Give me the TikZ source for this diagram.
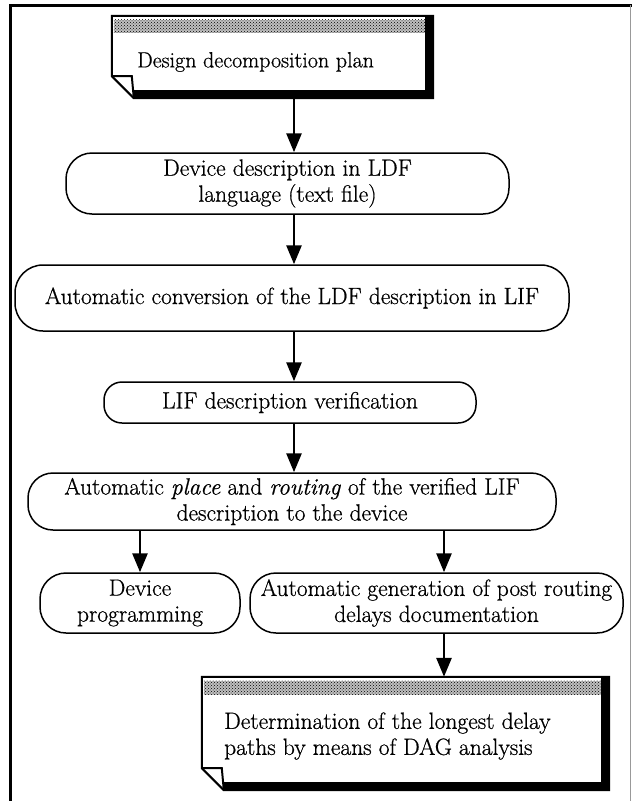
\documentclass[tikz,border=0pt]{standalone}
\usepackage{fontspec}
\newfontfamily\flowfont{Latin Modern Roman}[FakeBold = 0.7]
\usetikzlibrary{arrows.meta, patterns}
\tikzset{
    flowbox/.style = {draw, line width = 1.5, align = center, inner sep = 0, font = \flowfont\fontsize{23.5}{26}\selectfont},
    flowarrow/.style = {line width = 2.8, -{Triangle[length = 19pt, width = 15pt]}},
    doctext/.style = {align = left, inner sep = 0, font = \flowfont\fontsize{23.5}{26}\selectfont},
    docband/.style = {fill = black!25, postaction = {pattern = crosshatch dots, pattern color = black}},
}
\begin{document}
\begin{tikzpicture}[x = 1pt, y = -1pt]
        \useasboundingbox (0, 0) rectangle (632, 801);
        \draw [line width = 3] (10, 801) -- (10, 5) -- (632, 5);
        \draw [line width = 1, black!40] (630, 5) -- (630, 801);
        \coordinate (spine) at (294, 0);
        \coordinate (branch) at (444, 0);
        % design plan document
        \node [minimum width = 321, minimum height = 82, inner sep = 0] (plan) at (272.5, 57) {};
        \draw [line width = 2, fill = white] (plan.north west) -- (plan.north east) -- (plan.south east) -- ([xshift = 22pt] plan.south west) -- ([yshift = 22pt] plan.south west) -- cycle;
        \path [docband] ([shift = {(2pt, -4pt)}] plan.north west) rectangle ([shift = {(-8pt, -17pt)}] plan.north east);
        \draw [line width = 8] ([xshift = -4pt] plan.north east) -- ([shift = {(-4pt, 4pt)}] plan.south east) -- ([shift = {(22pt, 4pt)}] plan.south west);
        \draw [line width = 2] ([yshift = 22pt] plan.south west) -- ([shift = {(20pt, 22pt)}] plan.south west) -- ([xshift = 22pt] plan.south west);
        \node [doctext, font = \flowfont\fontsize{22}{24}\selectfont, anchor = west] (plantext) at (137, 62) {Design decomposition plan};
        % flow boxes
        \node [flowbox, minimum width = 443, minimum height = 61, rounded corners = 26pt] (desc) at (287.5, 183.5) {Device description in LDF\\language (text file)};
        \node [flowbox, minimum width = 554, minimum height = 66, rounded corners = 28pt] (conv) at (292, 298) {Automatic conversion of the LDF description in LIF};
        \node [flowbox, minimum width = 372, minimum height = 41, rounded corners = 18pt] (verif) at (290, 402.5) {LIF description verification};
        \node [flowbox, minimum width = 528, minimum height = 57, rounded corners = 25pt] (route) at (292, 501.5) {Automatic \emph{place} and \emph{routing} of the verified LIF\\description to the device};
        \node [flowbox, minimum width = 200, minimum height = 60, rounded corners = 26pt] (prog) at (140, 603) {Device\\programming};
        \node [flowbox, minimum width = 373, minimum height = 60, rounded corners = 26pt] (gen) at (436.5, 603) {Automatic generation of post routing\\delays documentation};
        % DAG document
        \node [minimum width = 407, minimum height = 113, inner sep = 0] (dag) at (405.5, 733.5) {};
        \draw [line width = 2, fill = white] (dag.north west) -- (dag.north east) -- (dag.south east) -- ([xshift = 22pt] dag.south west) -- ([yshift = 22pt] dag.south west) -- cycle;
        \path [docband] ([shift = {(2pt, -4pt)}] dag.north west) rectangle ([shift = {(-8pt, -18pt)}] dag.north east);
        \draw [line width = 8] ([xshift = -4pt] dag.north east) -- ([shift = {(-4pt, 4pt)}] dag.south east) -- ([shift = {(22pt, 4pt)}] dag.south west);
        \draw [line width = 2] ([yshift = 22pt] dag.south west) -- ([shift = {(20pt, 22pt)}] dag.south west) -- ([xshift = 22pt] dag.south west);
        \node [doctext, anchor = west] (dagtext) at (224, 736) {Determination of the longest delay\\paths by means of DAG analysis};
        % arrows
        \draw [flowarrow] (plan.south -| spine) -- (desc.north -| spine);
        \draw [flowarrow] (desc.south -| spine) -- (conv.north -| spine);
        \draw [flowarrow] (conv.south -| spine) -- (verif.north -| spine);
        \draw [flowarrow] (verif.south -| spine) -- (route.north -| spine);
        \draw [flowarrow] (route.south -| prog) -- (prog.north);
        \draw [flowarrow] (route.south -| branch) -- (gen.north -| branch);
        \draw [flowarrow] (gen.south -| branch) -- (dag.north -| branch);
    \end{tikzpicture}
\end{document}
